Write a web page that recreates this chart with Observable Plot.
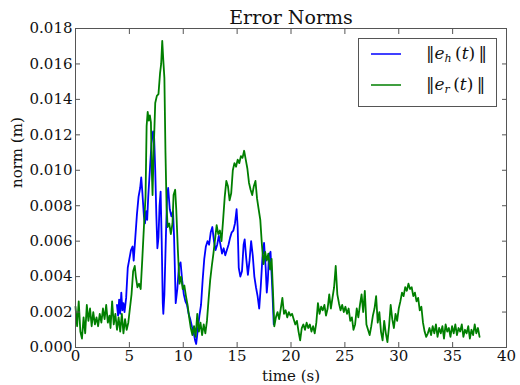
<!DOCTYPE html>
<html>
<head>
<meta charset="utf-8">
<script src="https://cdn.jsdelivr.net/npm/d3@7"></script>
<script src="https://cdn.jsdelivr.net/npm/@observablehq/plot@0.6"></script>
<style>
  html, body { margin: 0; padding: 0; background: #fff; }
  #wrap { position: relative; width: 520px; height: 385px; font-family: "DejaVu Serif", serif; }
  #wrap svg, #wrap svg text, #wrap svg g { font-family: "DejaVu Serif", serif !important; }
  #legend { position: absolute; left: 358px; top: 38px; width: 139px; height: 69px; border: 1px solid #555; background: #fff; box-sizing: border-box; }
  .row { position: absolute; left: 0; width: 100%; height: 24px; }
  .swatch { position: absolute; left: 12px; width: 30px; height: 0; border-top: 2px solid; }
  .lab { position: absolute; left: 67px; font-family: "DejaVu Serif", serif; font-size: 17px; white-space: nowrap; color: #111; }
  .lab i { font-style: italic; }
  .lab sub { font-size: 11px; vertical-align: -3px; }
</style>
</head>
<body>
<div id="wrap"></div>
<script>
const title = "Error Norms";
const xLabel = "time (s)";
const yLabel = "norm (m)";
const xTicks = [0, 5, 10, 15, 20, 25, 30, 35, 40];
const yTicks = [0, 0.002, 0.004, 0.006, 0.008, 0.010, 0.012, 0.014, 0.016, 0.018];
const seriesNames = ["e_h", "e_r"];

// ||e_h(t)|| (blue)
const tH = [3.85,3.95,4.05,4.15,4.25,4.35,4.45,4.55,4.7,4.85,5.0,5.15,5.3,5.4,5.55,5.7,5.85,6.0,6.1,6.2,6.35,6.45,6.55,6.65,6.75,6.9,7.05,7.2,7.3,7.4,7.5,7.6,7.7,7.8,7.9,8.0,8.1,8.15,8.25,8.4,8.5,8.6,8.75,8.9,9.05,9.15,9.3,9.45,9.6,9.75,9.9,10.05,10.2,10.35,10.5,10.65,10.8,10.95,11.1,11.2,11.35,11.5,11.65,11.8,11.95,12.1,12.25,12.4,12.55,12.7,12.85,13.0,13.15,13.3,13.45,13.6,13.75,13.9,14.05,14.2,14.35,14.5,14.65,14.8,14.95,15.05,15.15,15.3,15.45,15.6,15.7,15.85,16.0,16.15,16.3,16.45,16.6,16.75,16.9,17.05,17.2,17.35,17.5,17.65,17.75,17.85,17.95,18.1,18.25,18.4];
const vH = [0.0024,0.0018,0.0027,0.0019,0.0031,0.0021,0.0025,0.0020,0.0028,0.0045,0.0050,0.0055,0.0057,0.0049,0.0062,0.0075,0.0085,0.0090,0.0096,0.0088,0.0074,0.0070,0.0077,0.0072,0.0085,0.0100,0.0115,0.0122,0.0118,0.0100,0.0075,0.0056,0.0062,0.0080,0.0088,0.0060,0.0025,0.0019,0.0030,0.0065,0.0085,0.0090,0.0078,0.0074,0.0077,0.0062,0.0025,0.0033,0.0046,0.0048,0.0038,0.0030,0.0026,0.0024,0.0019,0.0016,0.0012,0.0009,0.0004,0.0002,0.0010,0.0018,0.0024,0.0038,0.0050,0.0057,0.0060,0.0058,0.0065,0.0068,0.0060,0.0055,0.0058,0.0063,0.0058,0.0053,0.0056,0.0052,0.0055,0.0058,0.0062,0.0065,0.0066,0.0070,0.0078,0.0068,0.0045,0.0040,0.0043,0.0058,0.0061,0.0050,0.0041,0.0049,0.0060,0.0052,0.0040,0.0034,0.0029,0.0022,0.0035,0.0051,0.0059,0.0045,0.0031,0.0038,0.0052,0.0054,0.0035,0.0013];

// ||e_r(t)|| (green)
const tR = [0.0,0.15,0.3,0.45,0.6,0.75,0.9,1.05,1.2,1.35,1.5,1.65,1.8,1.95,2.1,2.25,2.4,2.55,2.7,2.85,3.0,3.15,3.25,3.4,3.55,3.7,3.85,4.0,4.15,4.3,4.45,4.6,4.75,4.9,5.05,5.2,5.35,5.5,5.6,5.75,5.9,6.05,6.2,6.35,6.5,6.6,6.7,6.8,6.9,7.0,7.08,7.15,7.25,7.4,7.55,7.7,7.85,7.95,8.05,8.15,8.25,8.35,8.45,8.55,8.7,8.85,9.0,9.1,9.25,9.35,9.5,9.65,9.8,9.95,10.1,10.25,10.4,10.55,10.7,10.85,11.0,11.15,11.3,11.45,11.6,11.75,11.9,12.05,12.2,12.35,12.5,12.65,12.8,12.95,13.1,13.25,13.4,13.55,13.7,13.85,14.0,14.15,14.3,14.45,14.6,14.75,14.9,15.05,15.2,15.35,15.5,15.65,15.8,15.95,16.1,16.25,16.4,16.55,16.7,16.85,17.0,17.15,17.3,17.45,17.6,17.75,17.9,18.05,18.2,18.35,18.45,18.6,18.75,18.9,19.05,19.2,19.35,19.5,19.65,19.8,19.95,20.1,20.25,20.4,20.55,20.7,20.85,21.0,21.15,21.3,21.45,21.6,21.75,21.9,22.05,22.2,22.35,22.5,22.65,22.8,22.95,23.1,23.25,23.4,23.55,23.7,23.85,24.0,24.15,24.3,24.45,24.6,24.75,24.9,25.05,25.2,25.35,25.5,25.65,25.8,25.95,26.1,26.25,26.4,26.55,26.7,26.85,27.0,27.15,27.3,27.45,27.6,27.75,27.9,28.05,28.2,28.35,28.5,28.65,28.8,28.95,29.1,29.25,29.4,29.55,29.7,29.85,30.0,30.15,30.3,30.45,30.6,30.75,30.9,31.05,31.2,31.35,31.5,31.65,31.8,31.95,32.1,32.25,32.4,32.55,32.7,32.85,33.0,33.15,33.3,33.45,33.6,33.75,33.9,34.05,34.2,34.35,34.5,34.65,34.8,34.95,35.1,35.25,35.4,35.55,35.7,35.85,36.0,36.15,36.3,36.45,36.6,36.75,36.9,37.05,37.2,37.35,37.5];
const vR = [0.0023,0.0012,0.0026,0.0009,0.0005,0.0017,0.0008,0.0024,0.0015,0.0022,0.0012,0.0020,0.0013,0.0017,0.0012,0.0019,0.0014,0.0022,0.0016,0.0024,0.0014,0.0018,0.0011,0.0026,0.0013,0.0019,0.0010,0.0017,0.0009,0.0019,0.0008,0.0016,0.0010,0.0014,0.0022,0.0030,0.0043,0.0046,0.0040,0.0034,0.0036,0.0033,0.0050,0.0068,0.0085,0.0125,0.0133,0.0128,0.0131,0.0127,0.0100,0.0086,0.0110,0.0138,0.0142,0.0143,0.0155,0.0160,0.0173,0.0162,0.0152,0.0110,0.0080,0.0068,0.0070,0.0064,0.0070,0.0086,0.0089,0.0078,0.0055,0.0036,0.0040,0.0033,0.0035,0.0029,0.0024,0.0017,0.0011,0.0007,0.0012,0.0006,0.0019,0.0009,0.0014,0.0007,0.0013,0.0008,0.0015,0.0027,0.0038,0.0046,0.0053,0.0061,0.0069,0.0064,0.0066,0.0060,0.0072,0.0085,0.0094,0.0091,0.0083,0.0087,0.0100,0.0104,0.0102,0.0106,0.0104,0.0108,0.0107,0.0111,0.0106,0.0101,0.0093,0.0089,0.0086,0.0091,0.0094,0.0084,0.0078,0.0072,0.0058,0.0047,0.0054,0.0049,0.0053,0.0044,0.0050,0.0028,0.0012,0.0017,0.0020,0.0016,0.0022,0.0028,0.0019,0.0021,0.0017,0.0020,0.0018,0.0019,0.0016,0.0013,0.0015,0.0009,0.0004,0.0011,0.0013,0.0010,0.0014,0.0011,0.0013,0.0009,0.0012,0.0008,0.0014,0.0025,0.0019,0.0023,0.0021,0.0024,0.0018,0.0022,0.0030,0.0022,0.0028,0.0034,0.0046,0.0030,0.0025,0.0021,0.0024,0.0020,0.0023,0.0019,0.0022,0.0015,0.0017,0.0010,0.0013,0.0022,0.0017,0.0024,0.0030,0.0020,0.0032,0.0013,0.0010,0.0007,0.0012,0.0018,0.0022,0.0029,0.0014,0.0020,0.0009,0.0004,0.0015,0.0008,0.0003,0.0012,0.0024,0.0016,0.0011,0.0019,0.0015,0.0022,0.0026,0.0031,0.0029,0.0034,0.0032,0.0036,0.0033,0.0034,0.0029,0.0031,0.0026,0.0028,0.0021,0.0023,0.0014,0.0009,0.0006,0.0008,0.0011,0.0007,0.0012,0.0008,0.0013,0.0006,0.0011,0.0008,0.0012,0.0005,0.0013,0.0009,0.0011,0.0006,0.0012,0.0008,0.0013,0.0007,0.0011,0.0009,0.0013,0.0006,0.0010,0.0008,0.0012,0.0005,0.0010,0.0007,0.0013,0.0008,0.0011,0.0006];

const colors = ["#0000ff", "#007f00"];

const dataH = tH.map((t, i) => ({t, v: vH[i]}));
const dataR = tR.map((t, i) => ({t, v: vR[i]}));
const fmt = d3.format(".3f");
const serif = "DejaVu Serif, serif";

const chart = Plot.plot({
  width: 520,
  height: 385,
  marginLeft: 75,
  marginRight: 14,
  marginTop: 28,
  marginBottom: 38,
  style: {fontFamily: serif, fontSize: "15px", color: "#111", background: "#fff", overflow: "visible"},
  x: {domain: [0, 40]},
  y: {domain: [0, 0.018]},
  marks: [
    Plot.lineY(dataH, {x: "t", y: "v", stroke: colors[0], strokeWidth: 1.8}),
    Plot.lineY(dataR, {x: "t", y: "v", stroke: colors[1], strokeWidth: 1.8}),
    Plot.frame({stroke: "#555", strokeWidth: 1}),
    Plot.axisX({ticks: xTicks, tickSize: -5, tickPadding: 8, stroke: "#555", tickFormat: d => String(d), label: null, fontFamily: serif, fontSize: 15}),
    Plot.axisX({anchor: "top", ticks: xTicks, tickSize: -5, stroke: "#555", tickFormat: () => "", label: null}),
    Plot.axisY({ticks: yTicks, tickSize: -5, tickPadding: 8, stroke: "#555", tickFormat: fmt, label: null, fontFamily: serif, fontSize: 15}),
    Plot.axisY({anchor: "right", ticks: yTicks, tickSize: -5, stroke: "#555", tickFormat: () => "", label: null}),
    Plot.text([xLabel], {frameAnchor: "bottom", dy: 33, lineAnchor: "bottom", fontSize: 15, fontFamily: serif, fill: "#111"}),
    Plot.text([yLabel], {frameAnchor: "left", dx: -58, rotate: -90, lineAnchor: "middle", fontSize: 15, fontFamily: serif, fill: "#111"}),
    Plot.text([title], {frameAnchor: "top", dy: -5, lineAnchor: "bottom", fontSize: 19, fontFamily: serif, fill: "#111"})
  ]
});

const wrap = document.getElementById("wrap");
wrap.appendChild(chart);
d3.select(chart).selectAll("text").attr("font-family", serif).style("font-variant", "normal");

const legend = document.createElement("div");
legend.id = "legend";
const subs = ["h", "r"];
[0, 1].forEach(i => {
  const row = document.createElement("div");
  row.className = "row";
  row.style.top = (i === 0 ? 4 : 35) + "px";
  const sw = document.createElement("div");
  sw.className = "swatch";
  sw.style.top = "10px";
  sw.style.borderColor = colors[i];
  sw.style.opacity = "0.75";
  const lab = document.createElement("div");
  lab.className = "lab";
  lab.style.top = "0px";
  lab.innerHTML = "\u2016<i>e</i><sub><i>" + subs[i] + "</i></sub>\u2009(<i>t</i>)\u2009\u2016";
  row.appendChild(sw);
  row.appendChild(lab);
  legend.appendChild(row);
});
wrap.appendChild(legend);
</script>
</body>
</html>
